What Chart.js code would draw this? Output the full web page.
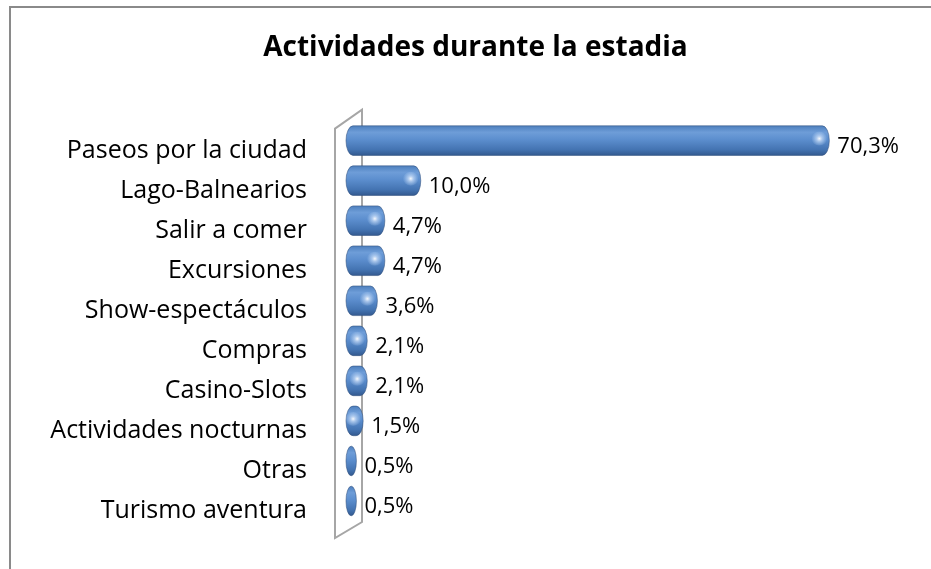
<!DOCTYPE html>
<html>
<head>
<meta charset="utf-8">
<script src="https://cdn.jsdelivr.net/npm/chart.js@4.4.1/dist/chart.umd.min.js"></script>
<style>
html,body{margin:0;padding:0;background:#fff;}
#wrap{width:931px;height:569px;position:relative;}
</style>
</head>
<body>
<div id="wrap"><canvas id="c" width="931" height="569"></canvas></div>
<script>
const chartTitle = 'Actividades durante la estadia';
const categories = ['Paseos por la ciudad','Lago-Balnearios','Salir a comer','Excursiones','Show-espectáculos','Compras','Casino-Slots','Actividades nocturnas','Otras','Turismo aventura'];
const values = [70.3, 10.0, 4.7, 4.7, 3.6, 2.1, 2.1, 1.5, 0.5, 0.5];
const axisMax = 85.6;

const FONT = '"Open Sans", "Noto Sans", sans-serif';

const framePlugin = {
  id: 'frame',
  beforeDraw(chart) {
    const ctx = chart.ctx;
    ctx.save();
    ctx.fillStyle = '#fff';
    ctx.fillRect(0, 0, chart.width, chart.height);
    ctx.strokeStyle = '#8a8a8a';
    ctx.lineWidth = 2;
    ctx.strokeRect(10, 7, chart.width + 50, chart.height + 50);
    // 3D wall
    const a = chart.chartArea;
    const L = a.left, T = a.top, B = a.bottom;
    ctx.beginPath();
    ctx.moveTo(L - 16, T + 8);
    ctx.lineTo(L + 11, T - 11);
    ctx.lineTo(L + 11, B + 1);
    ctx.lineTo(L - 16, B + 17);
    ctx.closePath();
    ctx.fillStyle = '#fff';
    ctx.fill();
    ctx.strokeStyle = '#a6a6a6';
    ctx.lineWidth = 2;
    ctx.stroke();
    ctx.restore();
  }
};

const cylPlugin = {
  id: 'cyl',
  afterDatasetsDraw(chart) {
    const ctx = chart.ctx;
    const meta = chart.getDatasetMeta(0);
    ctx.save();
    meta.data.forEach((el, i) => {
      const p = el.getProps(['x','y','base','height'], true);
      const h = p.height;
      const top = p.y - h / 2, bottom = p.y + h / 2, cy = p.y;
      const left = p.base - 5;
      let right = p.x + 2;
      if (right - left < 10) right = left + 10;
      const rx = Math.min(7, (right - left) / 2);
      const ry = h / 2;
      ctx.beginPath();
      ctx.moveTo(left + rx, top);
      ctx.lineTo(right - rx, top);
      ctx.ellipse(right - rx, cy, rx, ry, 0, -Math.PI / 2, Math.PI / 2);
      ctx.lineTo(left + rx, bottom);
      ctx.ellipse(left + rx, cy, rx, ry, 0, Math.PI / 2, Math.PI * 1.5);
      ctx.closePath();
      const g = ctx.createLinearGradient(0, top, 0, bottom);
      g.addColorStop(0, '#4d7fbd');
      g.addColorStop(0.22, '#6e9dd8');
      g.addColorStop(0.45, '#5d8fcf');
      g.addColorStop(0.8, '#4474b2');
      g.addColorStop(1, '#33598f');
      ctx.fillStyle = g;
      ctx.fill();
      ctx.strokeStyle = 'rgba(50,80,125,0.55)';
      ctx.lineWidth = 1;
      ctx.stroke();
      if (right - left > 14) {
        const hx = right - rx - 3, hy = cy - 2;
        const rg = ctx.createRadialGradient(hx, hy, 0, hx, hy, 8);
        rg.addColorStop(0, 'rgba(255,255,255,0.95)');
        rg.addColorStop(0.35, 'rgba(220,235,255,0.6)');
        rg.addColorStop(1, 'rgba(200,225,255,0)');
        ctx.fillStyle = rg;
        ctx.beginPath();
        ctx.ellipse(hx, hy, 8, 7, 0, 0, Math.PI * 2);
        ctx.fill();
      }
      ctx.fillStyle = '#000';
      ctx.font = '22px ' + FONT;
      ctx.textAlign = 'left';
      ctx.textBaseline = 'middle';
      ctx.fillText(values[i].toFixed(1).replace('.', ',') + '%', p.x + 10, cy + 6);
    });
    ctx.restore();
  }
};

new Chart(document.getElementById('c'), {
  type: 'bar',
  data: {
    labels: categories,
    datasets: [{
      data: values,
      backgroundColor: 'rgba(0,0,0,0)',
      borderWidth: 0,
      barPercentage: 1,
      categoryPercentage: 0.74
    }]
  },
  options: {
    indexAxis: 'y',
    responsive: false,
    animation: false,
    layout: { padding: { left: 20, right: 0, top: 0, bottom: 48 } },
    plugins: {
      legend: { display: false },
      tooltip: { enabled: false },
      title: {
        display: true,
        text: chartTitle,
        color: '#000',
        font: { family: FONT, size: 28, weight: 'bold' },
        padding: { top: 31, bottom: 56 }
      }
    },
    scales: {
      x: { display: false, min: 0, max: axisMax },
      y: {
        grid: { display: false, drawTicks: false },
        border: { display: false },
        ticks: {
          color: '#000',
          font: { family: FONT, size: 25 },
          padding: 44,
          labelOffset: 10
        },
        afterFit(scale) {
          scale.width = 331;
          scale.paddingTop = 0;
          scale.paddingBottom = 0;
        }
      }
    }
  },
  plugins: [framePlugin, cylPlugin]
});
</script>
</body>
</html>
